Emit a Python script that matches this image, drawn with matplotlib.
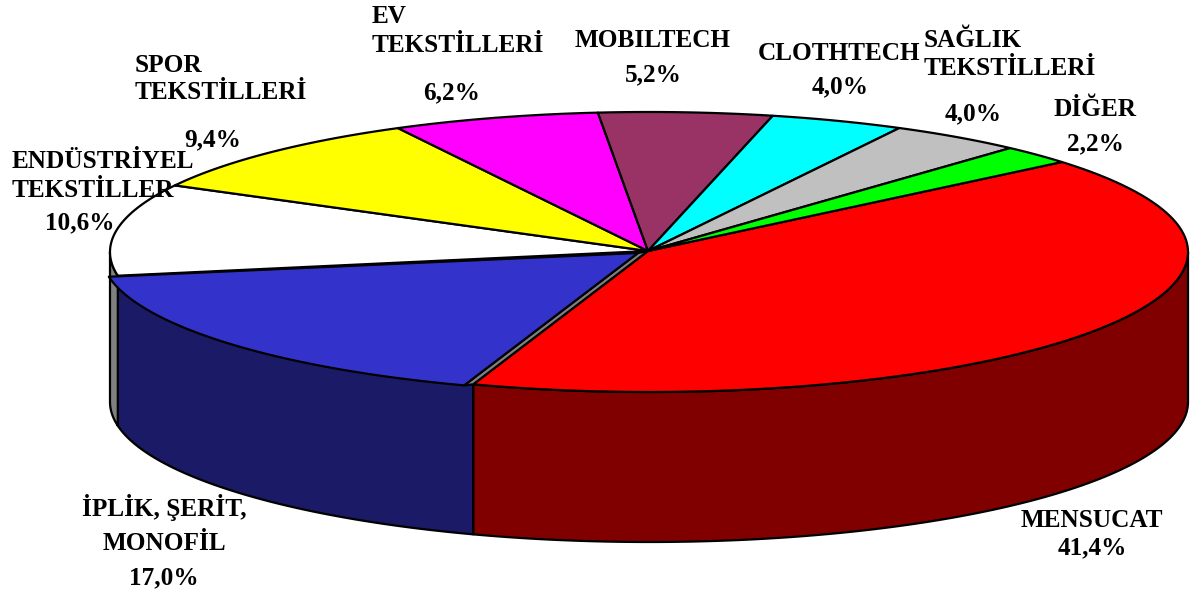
import numpy as np
import matplotlib
matplotlib.use("Agg")
import matplotlib.pyplot as plt
from matplotlib.patches import Polygon

categories = ["MENSUCAT", "İPLİK, ŞERİT, MONOFİL", "ENDÜSTRİYEL TEKSTİLLER", "SPOR TEKSTİLLERİ",
              "EV TEKSTİLLERİ", "MOBILTECH", "CLOTHTECH", "SAĞLIK TEKSTİLLERİ", "DİĞER"]
values = [41.4, 17.0, 10.6, 9.4, 6.2, 5.2, 4.0, 4.0, 2.2]
top_colors = ["#FF0000", "#3333CC", "#FFFFFF", "#FFFF00", "#FF00FF", "#993366", "#00FFFF", "#C0C0C0", "#00FF00"]
side_colors = {"MENSUCAT": "#800000", "İPLİK, ŞERİT, MONOFİL": "#1A1A66", "ENDÜSTRİYEL TEKSTİLLER": "#808080"}
label_lines = [["MENSUCAT"], ["İPLİK, ŞERİT,", "MONOFİL"], ["ENDÜSTRİYEL", "TEKSTİLLER"], ["SPOR", "TEKSTİLLERİ"],
               ["EV", "TEKSTİLLERİ"], ["MOBILTECH"], ["CLOTHTECH"], ["SAĞLIK", "TEKSTİLLERİ"], ["DİĞER"]]
# (x, baseline y, horizontal alignment) for each text line, then for the percentage
label_layout = [
    [(1092, 527, "center"), (1092, 554, "center")],
    [(164, 516, "center"), (164, 550, "center"), (164, 584, "center")],
    [(12, 168, "left"), (12, 197, "left"), (80, 229, "center")],
    [(135, 72, "left"), (135, 99, "left"), (213, 146, "center")],
    [(372, 23, "left"), (372, 52, "left"), (452, 99, "center")],
    [(653, 47, "center"), (653, 81, "center")],
    [(839, 60, "center"), (840, 93, "center")],
    [(924, 47, "left"), (924, 75, "left"), (973, 120, "center")],
    [(1095, 116, "center"), (1095, 150, "center")],
]

CX, CY, RX, RY, DEPTH = 649, 252, 539, 140, 150
START = 40.0
EXPLODE = (-9, 1)
APEX = (648, 251)
BLUE_APEX = (638, 253)
LW = 1.6

fig = plt.figure(figsize=(12.04, 5.92), dpi=100)
ax = fig.add_axes([0, 0, 1, 1])
ax.set_xlim(0, 1204)
ax.set_ylim(592, 0)
ax.axis("off")


def arc(t0, t1, dx=0.0, dy=0.0):
    t = np.radians(np.linspace(t0, t1, 120))
    return np.column_stack([CX + dx + RX * np.cos(t), CY + dy - RY * np.sin(t)])


def poly(points, color, z):
    ax.add_patch(Polygon(points, closed=True, facecolor=color, edgecolor="black",
                         linewidth=LW, joinstyle="round", zorder=z))


sweeps = np.array(values) / sum(values) * 360
bounds = START - np.concatenate([[0], np.cumsum(sweeps)])  # clockwise edges

# walls
red_end, blue_end, white_end = bounds[1], bounds[2], bounds[3]
wall = arc(red_end, 0)
poly(np.vstack([wall, (wall + [0, DEPTH])[::-1]]), side_colors[categories[0]], 1)
wall = arc(blue_end, red_end)
poly(np.vstack([wall, (wall + [0, DEPTH])[::-1]]), side_colors[categories[1]], 1)
wall = arc(blue_end, -180)
poly(np.vstack([wall, (wall + [0, DEPTH])[::-1]]), side_colors[categories[2]], 1)

# top faces
for i, color in enumerate(top_colors):
    if i == 1:
        continue
    poly(np.vstack([[APEX], arc(bounds[i], bounds[i + 1])]), color, 2)

# the slightly pulled-out slice and the inner wall showing beside it
blue_arc = arc(bounds[1], bounds[2], *EXPLODE)
poly(np.vstack([[APEX], arc(bounds[1], bounds[1]), blue_arc[:1], [BLUE_APEX]]), "#808080", 3)
poly(np.vstack([[BLUE_APEX], blue_arc]), top_colors[1], 4)

for lines, pos, v in zip(label_lines, label_layout, values):
    for s, (x, y, ha) in zip(lines + [f"{v:.1f}".replace(".", ",") + "%"], pos):
        ax.text(x, y, s, ha=ha, va="baseline", family="Liberation Serif", weight="bold",
                fontsize=18.2, color="black", zorder=10)

fig.savefig("out.png", dpi=100)
